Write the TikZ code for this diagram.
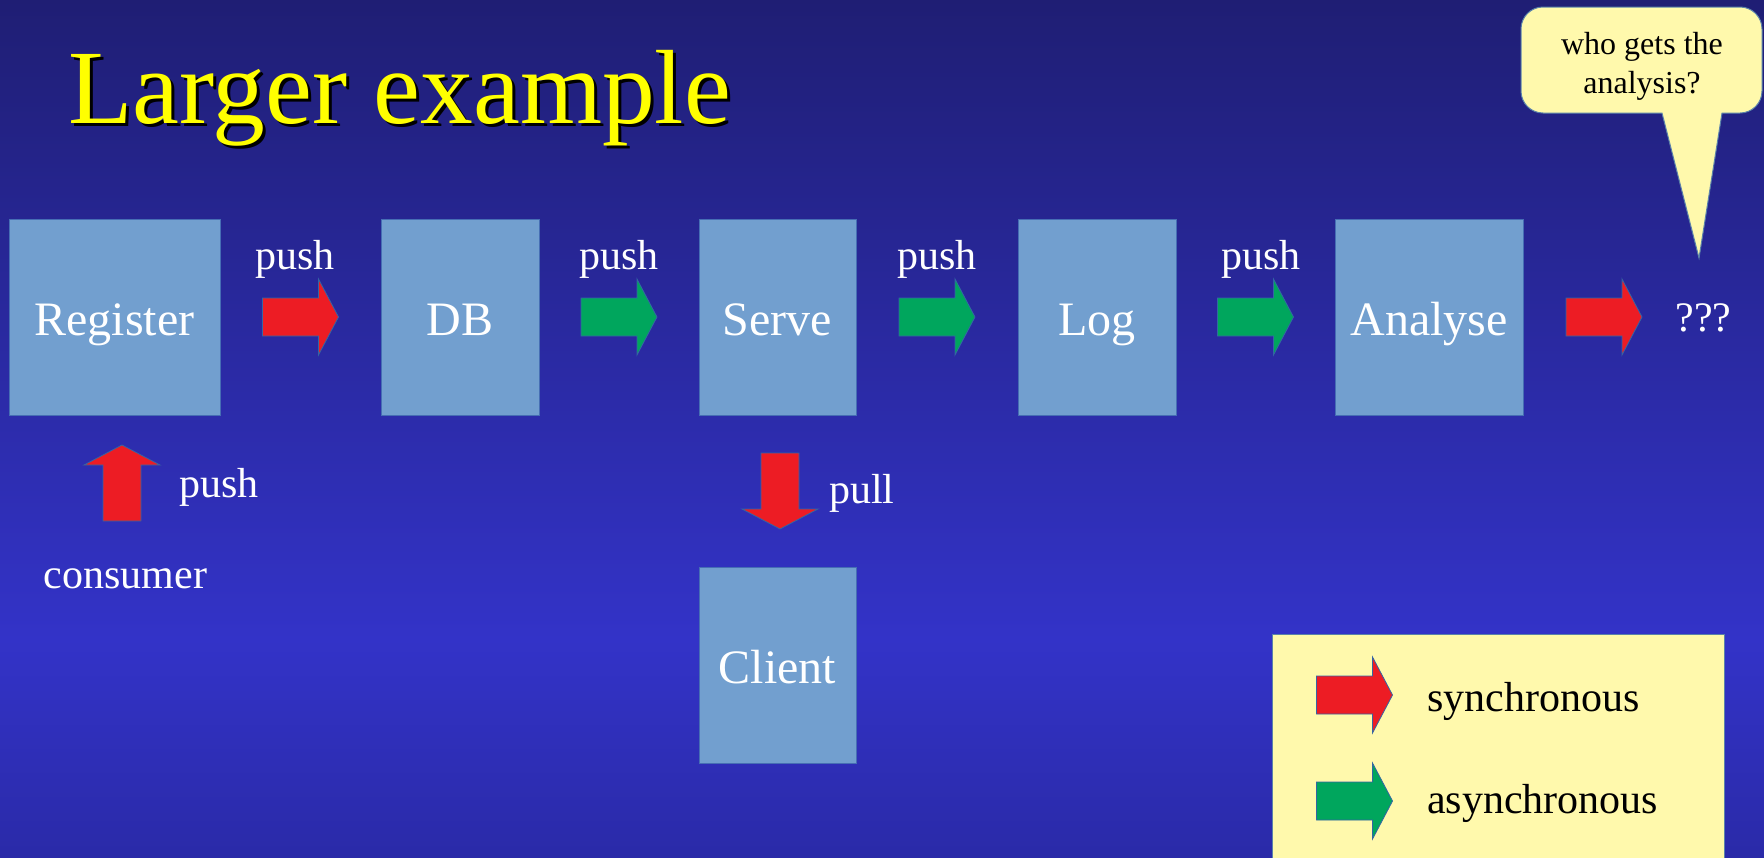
\documentclass[tikz,border=0pt]{standalone}
\usepackage{fontspec}
\setmainfont{Liberation Serif}
\usetikzlibrary{calc}

\definecolor{bgtop}{RGB}{31,30,116}
\definecolor{bgmid}{RGB}{51,51,200}
\definecolor{bgbot}{RGB}{42,42,168}
\definecolor{boxfill}{RGB}{114,159,207}
\definecolor{boxline}{RGB}{70,110,180}
\definecolor{syncred}{RGB}{237,28,36}
\definecolor{asyncgreen}{RGB}{0,166,93}
\definecolor{arrowline}{RGB}{52,101,164}
\definecolor{notefill}{RGB}{255,249,172}
\definecolor{noteline}{RGB}{90,130,170}
\definecolor{titleyellow}{RGB}{255,255,0}

\pgfdeclareverticalshading{slidebg}{100bp}{color(0bp)=(bgbot); color(25bp)=(bgbot); color(37.7bp)=(bgmid); color(75bp)=(bgtop); color(100bp)=(bgtop)}

\newcommand{\fsz}[1]{\fontsize{#1}{1.2\dimexpr#1pt\relax}\selectfont}

\tikzset{
  box/.style={draw=boxline, line width=1pt, fill=boxfill, text=white,
    inner sep=0pt, font=\fsz{48}, text height=36pt, text depth=0pt},
  whitelabel/.style={text=white, font=\fsz{42}, inner sep=0pt},
  blacklabel/.style={text=black, font=\fsz{42}, inner sep=0pt},
  pics/blockarrow/.style={code={
    \draw[draw=arrowline, line width=0.8pt, fill=#1]
      (-38,-19) -- (18,-19) -- (18,-38) -- (38,0) -- (18,38) -- (18,19) -- (-38,19) -- cycle;}},
}

\begin{document}
\begin{tikzpicture}[x=1pt, y=-1pt]
  \useasboundingbox (0,0) rectangle (1764,857);
  \fill[shading=slidebg] (0,0) rectangle (1764,857);

  % title with drop shadow
  \node[anchor=base west, inner sep=0pt, text=black, font=\fsz{105.5}] (titleshadow) at (71,126.5) {Larger example};
  \node[anchor=base west, inner sep=0pt, text=titleyellow, font=\fsz{105.5}] (title) at (68,123.5) {Larger example};

  % pipeline stages
  \node[box, minimum width=211pt, minimum height=196pt] (reg) at (114.5,317) {Register};
  \node[box, minimum width=158pt, minimum height=196pt] (db) at (460,317) {DB};
  \node[box, minimum width=157pt, minimum height=196pt] (serve) at (777.5,317) {Serve};
  \node[box, minimum width=158pt, minimum height=196pt] (log) at (1097,317) {Log};
  \node[box, minimum width=188pt, minimum height=196pt] (analyse) at (1429,317) {Analyse};
  \node[box, minimum width=157pt, minimum height=196pt] (client) at (777.5,665) {Client};
  \node[whitelabel, anchor=base] (unknown) at (1703.5,331) {???};

  % consumer below the register
  \node[whitelabel, anchor=base] (consumer) at (125.5,588) {consumer};

  % block arrows between the stages
  \coordinate (a1) at ($(reg.east)!0.5!(db.west)$);
  \coordinate (a2) at ($(db.east)!0.5!(serve.west)$);
  \coordinate (a3) at ($(serve.east)!0.5!(log.west)$);
  \coordinate (a4) at ($(log.east)!0.5!(analyse.west)$);
  \coordinate (a5) at (1604,317);
  \coordinate (a6) at (122,483);
  \coordinate (a7) at ($(serve.south)!0.5!(client.north)+(2.5,0)$);

  \pic at (a1) {blockarrow=syncred};
  \pic at (a2) {blockarrow=asyncgreen};
  \pic at (a3) {blockarrow=asyncgreen};
  \pic at (a4) {blockarrow=asyncgreen};
  \pic at (a5) {blockarrow=syncred};
  \pic[rotate=90] at (a6) {blockarrow=syncred};
  \pic[rotate=-90] at (a7) {blockarrow=syncred};

  % arrow labels
  \node[whitelabel, anchor=base] (l1) at (295,269) {push};
  \node[whitelabel, anchor=base] (l2) at (619,269) {push};
  \node[whitelabel, anchor=base] (l3) at (937,269) {push};
  \node[whitelabel, anchor=base] (l4) at (1261,269) {push};
  \node[whitelabel, anchor=base west] (l6) at (179,497) {push};
  \node[whitelabel, anchor=base west] (l7) at (829,503) {pull};

  % speech bubble
  \draw[draw=noteline, line width=1pt, fill=notefill]
    (1699,258) -- (1662,113) [rounded corners=22pt] -- (1521,113) -- (1521,7)
    -- (1762,7) -- (1762,113) [sharp corners] -- (1722,113) -- cycle;
  \node[text=black, font=\fsz{32}, align=center, inner sep=0pt, anchor=base] (note) at (1642,93)
    {who gets the\\[-0.2pt]analysis?};

  % legend
  \draw[draw=noteline, line width=1pt, fill=notefill] (1272,634) rectangle (1724,870);
  \coordinate (k1) at (1354.5,695);
  \coordinate (k2) at (1354.5,801);
  \pic at (k1) {blockarrow=syncred};
  \pic at (k2) {blockarrow=asyncgreen};
  \node[blacklabel, anchor=base west] (sync) at (1427,711) {synchronous};
  \node[blacklabel, anchor=base west] (async) at (1427,813) {asynchronous};
\end{tikzpicture}
\end{document}
